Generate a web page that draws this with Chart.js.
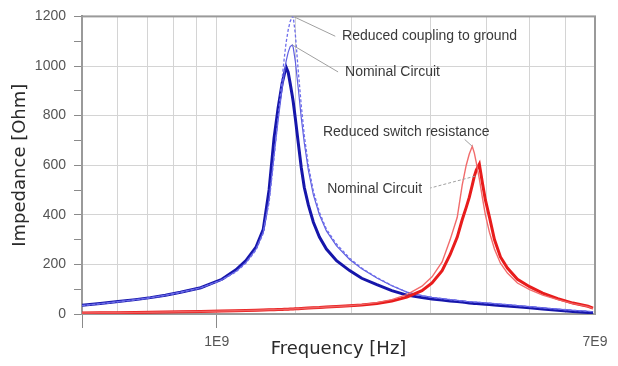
<!DOCTYPE html>
<html>
<head>
<meta charset="utf-8">
<script src="https://cdn.jsdelivr.net/npm/chart.js@4.4.1/dist/chart.umd.min.js"></script>
<style>
html,body{margin:0;padding:0;background:#fff;}
#wrap{width:618px;height:366px;}
</style>
</head>
<body>
<div id="wrap"><canvas id="c" width="618" height="366"></canvas></div>
<script>
// Frequency grid (GHz)
const freqGHz = [0.500,0.549,0.602,0.658,0.711,0.768,0.830,0.921,1.027,1.104,1.162,1.224,1.270,1.309,1.343,1.371,1.400,1.415,1.429,1.444,1.459,1.475,1.482,1.498,1.521,1.545,1.569,1.602,1.644,1.696,1.758,1.852,1.981,2.108,2.279,2.461,2.659,2.874,3.027,3.188,3.323,3.446,3.535,3.609,3.666,3.723,3.762,3.801,3.861,3.921,3.983,4.066,4.173,4.304,4.461,4.697,5.000,5.348,5.780,6.248,6.753,6.930];

// Impedance [Ohm]
const blueThick = [35,42,50,58,66,76,88,106,140,178,215,270,340,500,710,830,930,965,995,975,930,880,856,790,690,590,510,440,370,310,262,215,175,144,118,94,76,66,60,56,52,50,48,46,44,43,42,42,41,40,39,38,36,34,32,29,25,20,15,10,6,4];
const blueNominal = [35,42,50,58,66,76,88,106,138,172,208,262,330,460,640,780,910,970,1020,1055,1078,1085,1075,1020,910,790,690,580,480,400,335,275,220,182,145,114,88,74,67,62,58,55,53,51,50,49,48,48,47,46,45,44,42,40,38,34,30,25,20,15,11,9];
const blueReduced = [34,41,49,57,65,75,87,105,137,170,205,258,325,450,630,790,950,1030,1095,1145,1180,1198,1200,1130,980,840,720,600,495,410,342,282,225,185,147,115,88,74,67,62,58,55,53,51,50,49,48,48,47,46,45,44,42,40,38,34,30,25,20,15,11,9];
const redNominal = [4,5,5,6,7,8,9,10,12,13,14,15,16,17,17,18,18,19,19,19,20,20,20,21,21,22,23,24,25,26,28,30,33,36,42,52,68,94,125,175,240,310,380,430,470,520,555,580,604,530,460,392,300,230,185,140,110,84,62,44,31,24];
const redReduced = [4,5,5,6,7,8,9,10,12,13,14,15,16,17,17,18,18,19,19,19,20,20,20,21,21,22,23,24,25,26,28,30,33,38,46,58,78,112,150,210,300,390,520,600,645,676,650,610,545,470,400,330,262,205,165,125,98,76,58,42,30,22];

// Axis ticks
const xLabelValues = [1e9, 7e9];
const xLabelTexts = ['1E9', '7E9'];
const xTickMarkValues = [5e8, 1e9];
const yMajorStep = 200;

// Annotations
const annotTexts = ['Reduced coupling to ground','Nominal Circuit','Reduced switch resistance','Nominal Circuit'];
const annotAnchorF = [1.482, 1.475, 3.723, 3.78];
const annotAnchorZ = [1200, 1085, 676, 556];
const annotEndF = [1.84, 1.867, 3.58, 3.0];
const annotEndZ = [1120, 976, 704, 508];
const annotTextF = [1.905, 1.935, 1.727, 1.765];
const annotTextZ = [1120, 976, 732, 504];
const annotDashed = [false, false, false, true];

function pts(vals){ return freqGHz.map((f,i)=>({x:f*1e9, y:vals[i]})); }

const annotPlugin = {
  id:'annot',
  beforeDatasetsDraw(chart){
    const {ctx, chartArea:a} = chart;
    ctx.save();
    ctx.strokeStyle = '#9a9a9a';
    ctx.lineWidth = 2;
    ctx.strokeRect(a.left, a.top, a.right-a.left, a.bottom-a.top);
    ctx.restore();
  },
  afterDatasetsDraw(chart){
    const {ctx} = chart;
    const xs = chart.scales.x, ys = chart.scales.y;
    ctx.save();
    for(let i=0;i<annotTexts.length;i++){
      const x1 = xs.getPixelForValue(annotAnchorF[i]*1e9), y1 = ys.getPixelForValue(annotAnchorZ[i]);
      const x2 = xs.getPixelForValue(annotEndF[i]*1e9), y2 = ys.getPixelForValue(annotEndZ[i]);
      ctx.strokeStyle = '#a0a0a0';
      ctx.lineWidth = 1;
      ctx.setLineDash(annotDashed[i] ? [3,2] : []);
      ctx.beginPath(); ctx.moveTo(x1,y1); ctx.lineTo(x2,y2); ctx.stroke();
      ctx.setLineDash([]);
      ctx.fillStyle = '#3a3a3a';
      ctx.font = '14px "Liberation Sans", Arial, sans-serif';
      ctx.textBaseline = 'middle';
      ctx.textAlign = 'left';
      ctx.fillText(annotTexts[i], xs.getPixelForValue(annotTextF[i]*1e9), ys.getPixelForValue(annotTextZ[i]));
    }
    ctx.restore();
  }
};

new Chart(document.getElementById('c'), {
  type:'line',
  data:{datasets:[
    {label:'Reduced switch resistance', data:pts(redReduced), borderColor:'rgba(240,100,100,0.95)', borderWidth:1.4, pointRadius:0, tension:0},
    {label:'Nominal Circuit (red)', data:pts(redNominal), borderColor:'rgb(232,28,28)', borderWidth:3, pointRadius:0, tension:0},
    {label:'Reduced coupling to ground', data:pts(blueReduced), borderColor:'rgb(110,110,235)', borderWidth:1.3, borderDash:[3,2], pointRadius:0, tension:0},
    {label:'Nominal Circuit', data:pts(blueNominal), borderColor:'rgb(95,95,225)', borderWidth:1.2, pointRadius:0, tension:0},
    {label:'Blue thick', data:pts(blueThick), borderColor:'rgb(22,22,170)', borderWidth:3, pointRadius:0, tension:0}
  ]},
  options:{
    responsive:false, animation:false, parsing:true,
    layout:{padding:{top:14,right:23,left:0,bottom:0}},
    plugins:{legend:{display:false}, tooltip:{enabled:false}},
    scales:{
      x:{
        type:'logarithmic', min:5e8, max:7e9,
        afterFit(s){ s.height = 52; },
        border:{color:'#8a8a8a', width:2},
        grid:{
          color:'#d4d4d4', lineWidth:1, tickLength:14,
          tickColor:(c)=> (c.tick && xTickMarkValues.includes(c.tick.value)) ? '#8a8a8a' : 'rgba(0,0,0,0)'
        },
        ticks:{
          autoSkip:false, maxRotation:0, padding:6, color:'#555',
          font:{family:'"Liberation Sans", Arial, sans-serif', size:14},
          callback:(v)=>{ const k = xLabelValues.indexOf(v); return k>=0 ? xLabelTexts[k] : ''; }
        },
        title:{display:true, text:'Frequency [Hz]', color:'#2a2a2a', font:{family:'"DejaVu Sans", sans-serif', size:18}, padding:{top:0,bottom:6}}
      },
      y:{
        min:0, max:1200,
        afterFit(s){ s.width = 82; },
        border:{color:'#8a8a8a', width:2},
        grid:{
          color:(c)=> (c.tick && c.tick.value % yMajorStep === 0) ? '#d4d4d4' : 'rgba(0,0,0,0)',
          tickColor:'#8a8a8a', tickLength:8
        },
        ticks:{
          stepSize:100, autoSkip:false, padding:8, color:'#555',
          font:{family:'"Liberation Sans", Arial, sans-serif', size:14},
          callback:(v)=> v % yMajorStep === 0 ? String(v) : ''
        },
        title:{display:true, text:'Impedance [Ohm]', color:'#2a2a2a', font:{family:'"DejaVu Sans", sans-serif', size:18}, padding:{top:10,bottom:0}}
      }
    }
  },
  plugins:[annotPlugin]
});
</script>
</body>
</html>
